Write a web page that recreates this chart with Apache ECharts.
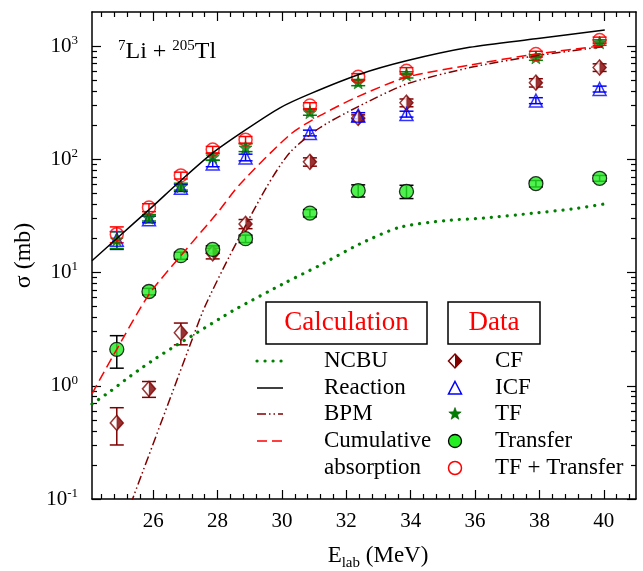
<!DOCTYPE html>
<html>
<head>
<meta charset="utf-8">
<script src="https://cdn.jsdelivr.net/npm/echarts@6/dist/echarts.min.js"></script>
<style>
  html, body { margin: 0; padding: 0; background: #fff; }
  #chart { width: 643px; height: 571px; }
</style>
</head>
<body>
<div id="chart"></div>
<script>
// beam energies of the measured points (MeV)
const energies = [24.87, 25.87, 26.86, 27.85, 28.87, 30.87, 32.37, 33.87, 37.89, 39.87];

// measured cross sections (mb) and their errors
const cf = [0.47, 0.94, 2.94, 14.8, 26.9, 95, 232, 316, 475, 647];
const cfErr = [0.17, 0.15, 0.64, 1.6, 2.5, 8, 15, 25, 40, 50];
const icf = [19.5, 29.5, 56, 92, 104, 171, 243, 251, 330, 418];
const icfErr = [3.5, 2, 4, 6, 7, 10, 15, 15, 20, 25];
const tf = [19.6, 30.5, 57.5, 105, 127, 260, 477, 558, 794, 1076];
const tfErr = [3.3, 2, 4, 7, 10, 15, 30, 35, 45, 60];
const transfer = [2.1, 6.8, 14.1, 16.0, 19.9, 33.5, 53, 52, 61, 68];
const transferErr = [0.67, 0.45, 1.0, 1.2, 1.5, 2.5, 6.5, 7, 4, 4];
const tfTransfer = [21.8, 37.5, 72, 122, 149, 298, 536, 605, 850, 1130];
const tfTransferErr = [3.5, 3, 5, 8, 10, 18, 35, 40, 50, 70];

// calculations
const ncbuE = [24.1, 24.66, 25.12, 25.62, 26.1, 26.6, 27.35, 28.07, 28.59, 30.04, 31.18, 32.42, 33.66, 35.1, 36.35, 37.8, 39.04, 40.03];
const ncbuSigma = [0.69, 0.89, 1.12, 1.42, 1.76, 2.17, 2.93, 3.92, 4.8, 7.96, 11.6, 17.9, 25.1, 28.8, 30.4, 33.4, 36.5, 40.4];
const reactionE = [24.1, 24.87, 25.9, 26.86, 27.85, 28.87, 29.94, 30.87, 32.37, 33.87, 35.83, 37.89, 40.03];
const reactionSigma = [12.7, 20, 36.5, 65, 114, 182, 285, 378, 558, 741, 975, 1160, 1384];
const bpmE = [25.3, 26.62, 27.14, 27.6, 28.38, 29.52, 30.25, 31.18, 32.37, 33.87, 35.84, 37.89, 40.0];
const bpmSigma = [0.09, 0.91, 2.27, 4.95, 14.1, 56.6, 115, 190, 292, 462, 646, 821, 990];
const cumE = [24.1, 24.87, 25.87, 26.86, 27.97, 28.69, 30.25, 31.18, 32.36, 33.87, 35.84, 37.89, 40.0];
const cumSigma = [0.85, 2.1, 6.4, 14.1, 33, 60, 165, 243, 358, 530, 680, 850, 1010];

// axes
const xMin = 24.1, xMax = 41;
const yMin = 0.1, yMax = 2000;
const xTicks = [26, 28, 30, 32, 34, 36, 38, 40];
const yTicks = [0.1, 1, 10, 100, 1000];

const xMinorTicks = [];
for (let v = 24.4; v < xMax; v += 0.4) {
  const r = Math.round(v * 10) / 10;
  if (!xTicks.includes(r)) xMinorTicks.push(r);
}
const yMinorTicks = [];
for (let k = -1; k <= 3; k++) {
  for (let m = 2; m <= 9; m++) {
    const v = m * Math.pow(10, k);
    if (v < yMax) yMinorTicks.push(v);
  }
}

const MAROON = '#800000';
const GREEN = '#008000';
const LIME = '#22ee22';
const FONT = 'Liberation Serif';

function starPoints(cx, cy, R, r) {
  const pts = [];
  for (let k = 0; k < 10; k++) {
    const a = -Math.PI / 2 + k * Math.PI / 5;
    const rad = k % 2 ? r : R;
    pts.push([cx + rad * Math.cos(a), cy + rad * Math.sin(a)]);
  }
  return pts;
}
const starPath = 'path://' + starPoints(1, 1, 1, 0.42)
  .map((p, i) => (i ? 'L' : 'M') + p[0].toFixed(3) + ',' + p[1].toFixed(3)).join('') + 'Z';

function pts(xs, ys) {
  return xs.map((x, i) => [x, ys[i]]);
}

function errorBars(values, errs, color) {
  return {
    type: 'custom',
    silent: true,
    encode: { x: 0, y: [1, 2] },
    data: energies.map((e, i) => [e, values[i] - errs[i], values[i] + errs[i]]),
    renderItem: function (params, api) {
      const lo = api.coord([api.value(0), api.value(1)]);
      const hi = api.coord([api.value(0), api.value(2)]);
      const h = 7;
      const style = { stroke: color, lineWidth: 1.5 };
      return {
        type: 'group',
        children: [
          { type: 'line', shape: { x1: lo[0], y1: lo[1], x2: hi[0], y2: hi[1] }, style: style },
          { type: 'line', shape: { x1: lo[0] - h, y1: lo[1], x2: lo[0] + h, y2: lo[1] }, style: style },
          { type: 'line', shape: { x1: hi[0] - h, y1: hi[1], x2: hi[0] + h, y2: hi[1] }, style: style }
        ]
      };
    }
  };
}

function curve(name, xs, ys, lineStyle) {
  return {
    name: name,
    type: 'line',
    data: pts(xs, ys),
    symbol: 'none',
    smooth: 0.25,
    clip: true,
    silent: true,
    lineStyle: lineStyle
  };
}

function marks(name, values, extra) {
  return Object.assign({
    name: name,
    type: 'scatter',
    silent: true,
    data: pts(energies, values)
  }, extra);
}

const axisLine = { onZero: false, lineStyle: { color: '#000', width: 1.5 } };
const tickStyle = { color: '#000', width: 1.2 };

function xAxisDef(position, minor) {
  return {
    type: 'value', min: xMin, max: xMax, position: position,
    splitLine: { show: false },
    axisLine: minor ? { show: false } : axisLine,
    axisTick: { inside: true, length: minor ? 5 : 9, customValues: minor ? xMinorTicks : xTicks, lineStyle: tickStyle },
    axisLabel: { show: false }
  };
}
function yAxisDef(position, minor) {
  return {
    type: 'log', logBase: 10, min: yMin, max: yMax, position: position,
    splitLine: { show: false },
    axisLine: minor ? { show: false } : axisLine,
    axisTick: { inside: true, length: minor ? 5 : 9, customValues: minor ? yMinorTicks : yTicks, lineStyle: tickStyle },
    axisLabel: { show: false }
  };
}

const xMain = xAxisDef('bottom', false);
xMain.axisLabel = {
  show: true, customValues: xTicks, margin: 12,
  fontSize: 21, fontFamily: FONT, color: '#000'
};
xMain.name = '{m|E}{sub|lab}{m| (MeV)}';
xMain.nameLocation = 'middle';
xMain.nameGap = 42;
xMain.nameTextStyle = {
  padding: [0, 0, 0, 28],
  rich: {
    m: { fontSize: 23, fontFamily: FONT, color: '#000', lineHeight: 30 },
    sub: { fontSize: 15, fontFamily: FONT, color: '#000', verticalAlign: 'bottom' }
  }
};

const yMain = yAxisDef('left', false);
yMain.axisLabel = {
  show: true, customValues: yTicks, margin: 14,
  formatter: function (v) {
    return '{b|10}{sup|' + Math.round(Math.log10(v)) + '}';
  },
  rich: {
    b: { fontSize: 21, fontFamily: FONT, color: '#000', lineHeight: 24 },
    sup: { fontSize: 13, fontFamily: FONT, color: '#000', verticalAlign: 'top' }
  }
};
yMain.name = 'σ (mb)';
yMain.nameLocation = 'middle';
yMain.nameGap = 43;
yMain.nameTextStyle = { fontSize: 24, fontFamily: FONT, color: '#000' };

const option = {
  animation: false,
  backgroundColor: '#fff',
  textStyle: { fontFamily: FONT, color: '#000' },
  title: {
    text: '{sup|7}{m|Li + }{sup|205}{m|Tl}',
    left: 113, top: 34,
    textStyle: {
      fontWeight: 'normal',
      rich: {
        m: { fontSize: 24, fontFamily: FONT, fontWeight: 'normal', color: '#000', lineHeight: 26 },
        sup: { fontSize: 15, fontFamily: FONT, fontWeight: 'normal', color: '#000', verticalAlign: 'top' }
      }
    }
  },
  grid: { left: 92, right: 7, top: 12, bottom: 72, containLabel: false, outerBoundsMode: 'none' },
  xAxis: [xMain, xAxisDef('bottom', true), xAxisDef('top', false), xAxisDef('top', true)],
  yAxis: [yMain, yAxisDef('left', true), yAxisDef('right', false), yAxisDef('right', true)],
  series: [
    curve('NCBU', ncbuE, ncbuSigma, { color: GREEN, width: 3.2, type: [0.1, 7.9], cap: 'round' }),
    curve('Reaction', reactionE, reactionSigma, { color: '#000', width: 1.5 }),
    curve('BPM', bpmE, bpmSigma, { color: MAROON, width: 1.5, type: [9, 3, 1.5, 3, 1.5, 3] }),
    curve('Cumulative absorption', cumE, cumSigma, { color: '#ff0000', width: 1.5, type: [10, 5] }),

    errorBars(cf, cfErr, MAROON),
    marks('CF', cf, {
      symbol: 'diamond', symbolSize: [13, 15],
      itemStyle: { color: '#fff', borderColor: MAROON, borderWidth: 1.5 }
    }),
    marks('CF', cf, {
      symbol: 'path://M0,0L1,1L0,2Z', symbolSize: [6.5, 15], symbolOffset: [3.25, 0],
      itemStyle: { color: MAROON }
    }),
    errorBars(icf, icfErr, '#0000ff'),
    marks('ICF', icf, {
      symbol: 'triangle', symbolSize: 13,
      itemStyle: { color: 'rgba(0,0,0,0)', borderColor: '#0000ff', borderWidth: 1.5 }
    }),
    errorBars(tf, tfErr, GREEN),
    marks('TF', tf, {
      symbol: starPath, symbolSize: 13,
      itemStyle: { color: GREEN, borderColor: '#005500', borderWidth: 0.6 }
    }),
    errorBars(transfer, transferErr, '#000'),
    marks('Transfer', transfer, {
      symbol: 'circle', symbolSize: 14,
      itemStyle: { color: LIME, borderColor: '#000', borderWidth: 1.3 }
    }),
    errorBars(tfTransfer, tfTransferErr, '#ff0000'),
    marks('TF + Transfer', tfTransfer, {
      symbol: 'circle', symbolSize: 13,
      itemStyle: { color: 'rgba(0,0,0,0)', borderColor: '#ff0000', borderWidth: 1.5 }
    })
  ],
  graphic: (function () {
    const rows = [361, 388, 414, 441, 468];
    const txt = function (x, y, s, size, color, align) {
      return {
        type: 'text', x: x, y: y, z: 100,
        style: { text: s, fill: color || '#000', fontSize: size, fontFamily: FONT, align: align || 'left', verticalAlign: 'middle' }
      };
    };
    const seg = function (y, style) {
      return { type: 'line', z: 100, shape: { x1: 257, y1: y, x2: 283, y2: y }, style: style };
    };
    const sx = 455;
    return [
      { type: 'rect', z: 99, shape: { x: 266, y: 302, width: 161, height: 42 }, style: { fill: '#fff', stroke: '#000', lineWidth: 1.5 } },
      txt(346.5, 323, 'Calculation', 27, '#ff0000', 'center'),
      { type: 'rect', z: 99, shape: { x: 448, y: 302, width: 92, height: 42 }, style: { fill: '#fff', stroke: '#000', lineWidth: 1.5 } },
      txt(494, 323, 'Data', 27, '#ff0000', 'center'),

      seg(rows[0], { stroke: GREEN, lineWidth: 3.2, lineDash: [0.1, 7.9], lineCap: 'round' }),
      seg(rows[1], { stroke: '#000', lineWidth: 1.5 }),
      seg(rows[2], { stroke: MAROON, lineWidth: 1.5, lineDash: [9, 3, 1.5, 3, 1.5, 3] }),
      seg(rows[3], { stroke: '#ff0000', lineWidth: 1.5, lineDash: [10, 5] }),
      txt(324, rows[0], 'NCBU', 23),
      txt(324, rows[1], 'Reaction', 23),
      txt(324, rows[2], 'BPM', 23),
      txt(324, rows[3], 'Cumulative', 23),
      txt(324, rows[4], 'absorption', 23),

      { type: 'polygon', z: 100, shape: { points: [[sx, rows[0] - 7], [sx + 6.5, rows[0]], [sx, rows[0] + 7], [sx - 6.5, rows[0]]] },
        style: { fill: '#fff', stroke: MAROON, lineWidth: 1.5 } },
      { type: 'polygon', z: 101, shape: { points: [[sx, rows[0] - 7], [sx + 6.5, rows[0]], [sx, rows[0] + 7]] },
        style: { fill: MAROON } },
      { type: 'polygon', z: 100, shape: { points: [[sx, rows[1] - 6.5], [sx + 6.5, rows[1] + 6], [sx - 6.5, rows[1] + 6]] },
        style: { fill: 'none', stroke: '#0000ff', lineWidth: 1.5 } },
      { type: 'polygon', z: 100, shape: { points: starPoints(sx, rows[2], 6.5, 2.7) },
        style: { fill: GREEN, stroke: '#005500', lineWidth: 0.6 } },
      { type: 'circle', z: 100, shape: { cx: sx, cy: rows[3], r: 6.5 }, style: { fill: LIME, stroke: '#000', lineWidth: 1.3 } },
      { type: 'circle', z: 100, shape: { cx: sx, cy: rows[4], r: 6.5 }, style: { fill: 'none', stroke: '#ff0000', lineWidth: 1.5 } },
      txt(495, rows[0], 'CF', 23),
      txt(495, rows[1], 'ICF', 23),
      txt(495, rows[2], 'TF', 23),
      txt(495, rows[3], 'Transfer', 23),
      txt(495, rows[4], 'TF + Transfer', 23)
    ];
  })()
};

const chart = echarts.init(document.getElementById('chart'), null, { renderer: 'canvas' });
chart.setOption(option);
</script>
</body>
</html>
